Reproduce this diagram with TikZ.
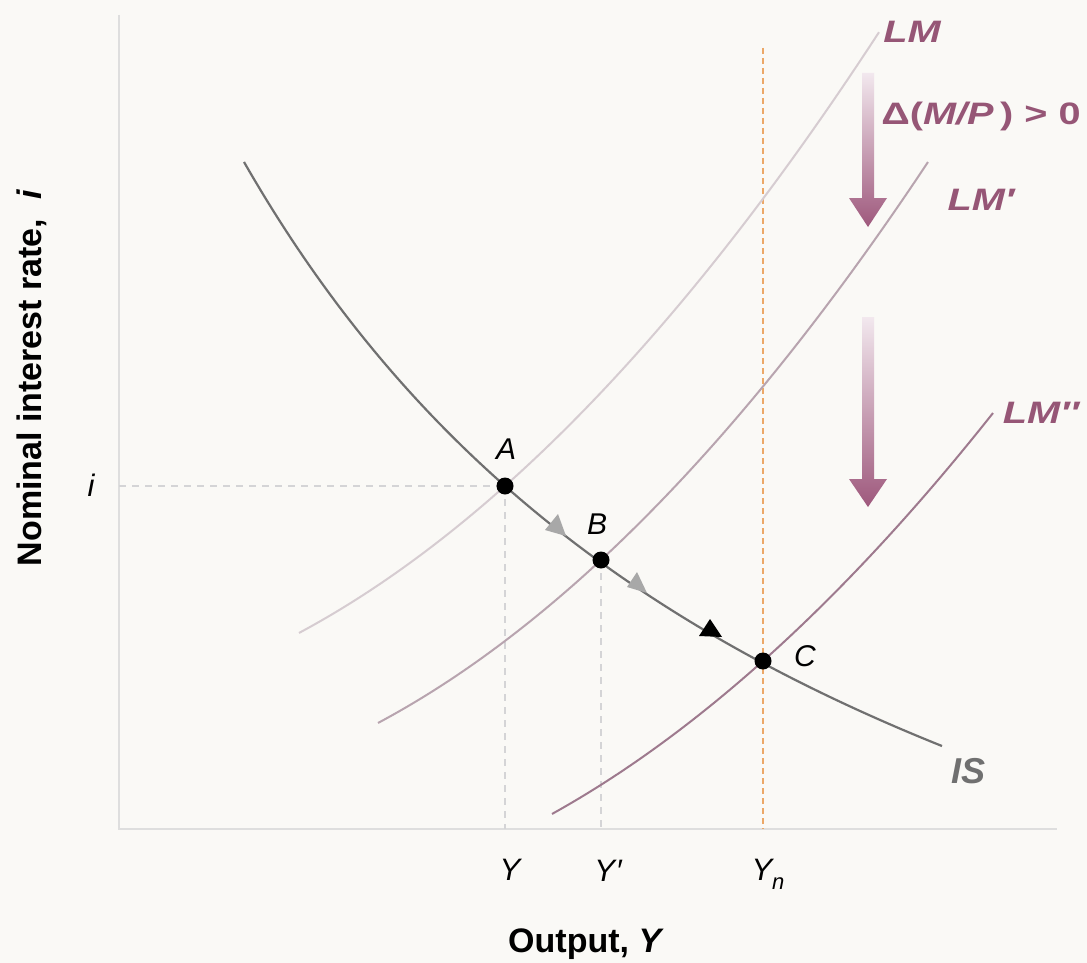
\documentclass[tikz,border=0pt]{standalone}
\usepackage{fontspec}
\setmainfont{Liberation Sans}
\definecolor{bg}{RGB}{250,249,246}
\definecolor{axisgray}{RGB}{222,222,222}
\definecolor{guidegray}{RGB}{212,212,214}
\definecolor{natorange}{RGB}{236,168,104}
\definecolor{isgray}{RGB}{112,112,112}
\definecolor{lmA}{RGB}{214,204,209}
\definecolor{lmB}{RGB}{184,164,175}
\definecolor{lmC}{RGB}{158,122,142}
\definecolor{mauve}{RGB}{150,86,118}
\definecolor{shadetop}{RGB}{242,232,238}
\definecolor{shadebot}{RGB}{158,88,124}
\definecolor{trigray}{RGB}{168,168,168}
\begin{document}
\begin{tikzpicture}[x=1pt,y=-1pt,
  axisline/.style={draw=axisgray,line width=2pt},
  guide/.style={draw=guidegray,line width=1.3pt,dash pattern=on 7pt off 6pt},
  natural/.style={draw=natorange,line width=1.5pt,dash pattern=on 6pt off 4pt},
  iscurve/.style={draw=isgray,line width=2.2pt},
  lmcurve/.style={line width=2pt},
  dot/.style={circle,fill=black,inner sep=0pt,minimum size=17pt},
  ptlabel/.style={font=\fontsize{30}{32}\selectfont\itshape},
  ticklabel/.style={font=\fontsize{31}{33}\selectfont\itshape},
  lmlabel/.style={text=mauve,font=\fontsize{31}{34}\selectfont\bfseries\itshape},
  axtitle/.style={font=\fontsize{34}{38}\selectfont\bfseries},
  bigarrow/.style={top color=shadetop,bottom color=shadebot,draw=none}
]
\fill[bg] (0,0) rectangle (1087,963);
\useasboundingbox (0,0) rectangle (1087,963);

% axes
\coordinate (O) at (119,829);
\coordinate (ytop) at (119,15);
\coordinate (xend) at (1057,829);
\draw[axisline] (ytop) -- (O) -- (xend);

% key points
\coordinate (A) at (505,486);
\coordinate (B) at (601,560);
\coordinate (C) at (763,661);
\coordinate (iax) at (119,486);
\coordinate (Ntop) at (763,48);

% guide lines
\draw[guide] (iax) -- (A);
\draw[guide] (A) -- (A |- O);
\draw[guide] (B) -- (B |- O);
\draw[natural] (Ntop) -- (Ntop |- O);

% LM curves
\draw[lmcurve,draw=lmA] plot[domain=299:879,samples=80] (\x,{486-0.891*(\x-505)-8.62*((\x-505)/100)^2});
\draw[lmcurve,draw=lmB] plot[domain=378:928,samples=80] (\x,{560-0.928*(\x-601)-8.84*((\x-601)/100)^2});
\draw[lmcurve,draw=lmC] plot[domain=552:993,samples=80] (\x,{661-0.894*(\x-763)-8.01*((\x-763)/100)^2});

% IS curve
\draw[iscurve] plot[domain=244:942,samples=120] (\x,{1283.8-7210/((\x+398.7)/100)});

% direction triangles on IS
\fill[trigray] (545,530) -- (558,514) -- (566,536) -- cycle;
\fill[trigray] (627,587) -- (637,572) -- (647,593) -- cycle;
\fill[black] (699,636) -- (722,637) -- (710,619) -- cycle;

% equilibrium dots
\node[dot] (dA) at (A) {};
\node[dot] (dB) at (B) {};
\node[dot] (dC) at (C) {};

% shaded arrows
\shade[bigarrow] (862,73) -- (874,73) -- (874,198) -- (887,198) -- (868,227) -- (849,198) -- (862,198) -- cycle;
\shade[bigarrow] (862,317) -- (874,317) -- (874,479) -- (887,479) -- (868,507) -- (849,479) -- (862,479) -- cycle;

% labels
\node[ptlabel] (lA) at (506,449) {A};
\node[ptlabel] (lB) at (597,524) {B};
\node[ptlabel] (lC) at (805,656) {C};
\node[ticklabel] (li) at (91,485) {i};
\node[ticklabel] (lY) at (510,870) {Y};
\node[ticklabel] (lY1) at (608,871) {Y\kern1pt′};
\node[ticklabel] (lYn) at (768,874) {Y\raisebox{-9pt}{\fontsize{22}{22}\selectfont n}};

\node[lmlabel] (lLM) at (912,32) {\scalebox{1.28}[1]{LM}};
\node[lmlabel] (lLM1) at (981,200) {\scalebox{1.28}[1]{LM′}};
\node[lmlabel] (lLM2) at (1041,413) {\scalebox{1.28}[1]{LM″}};
\node[text=mauve,font=\fontsize{31}{34}\selectfont\bfseries] (ldelta) at (981,116) {\scalebox{1.28}[1]{Δ(\textit{M/P}\,) > 0}};
\node[text=isgray,font=\fontsize{36}{38}\selectfont\bfseries\itshape] (lIS) at (968,771) {IS};

\node[axtitle] (xt) at (586,944) {Output, \textit{Y}};
\node[axtitle,rotate=90] (yt) at (32,378) {Nominal interest rate,\ \ \textit{i}};
\end{tikzpicture}
\end{document}
